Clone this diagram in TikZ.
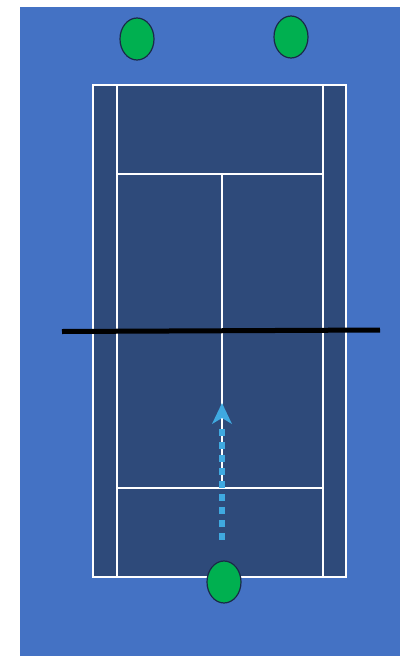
\documentclass[tikz,border=0pt]{standalone}
\usetikzlibrary{arrows.meta,shapes.geometric}
\definecolor{bgblue}{HTML}{4472C4}
\definecolor{court}{HTML}{2E4A7A}
\definecolor{ballgreen}{HTML}{00B050}
\definecolor{navy}{HTML}{1A2A48}
\definecolor{arrowblue}{HTML}{3FA9E0}
\begin{document}
\begin{tikzpicture}[x=1pt,y=-1pt,
  courtline/.style={draw=white,line width=2.2pt},
  player/.style={ellipse,draw=navy,fill=ballgreen,line width=1.2pt,minimum width=34pt,minimum height=42pt,inner sep=0pt}]
\useasboundingbox (0,0) rectangle (400,656);
\fill[white] (0,0) rectangle (400,656);
\fill[bgblue] (20,7) rectangle (400,656);
% court
\fill[court] (93,85) rectangle (346,577);
\draw[courtline] (93,85) rectangle (346,577);
\draw[courtline] (117,85) -- (117,577);
\draw[courtline] (323,85) -- (323,577);
\draw[courtline] (117,174) -- (323,174);
\draw[courtline] (117,488) -- (323,488);
\draw[courtline] (222,174) -- (222,488);
% net
\coordinate (netL) at (62,331.5);
\coordinate (netR) at (380,330);
\draw[black,line width=5pt] (netL) -- (netR);
% players
\node[player] (p1) at (137,39) {};
\node[player] (p2) at (291,37) {};
\node[player] (p3) at (224,582) {};
% arrow
\coordinate (a0) at (222,539.5);
\coordinate (a1) at (222,423);
\coordinate (tip) at (222,403);
\draw[arrowblue,line width=6.5pt,dash pattern=on 6.5pt off 6.5pt] (a0) -- (a1);
\fill[arrowblue] (tip) -- (232,424) -- (222,418) -- (212,424) -- cycle;
\end{tikzpicture}
\end{document}
